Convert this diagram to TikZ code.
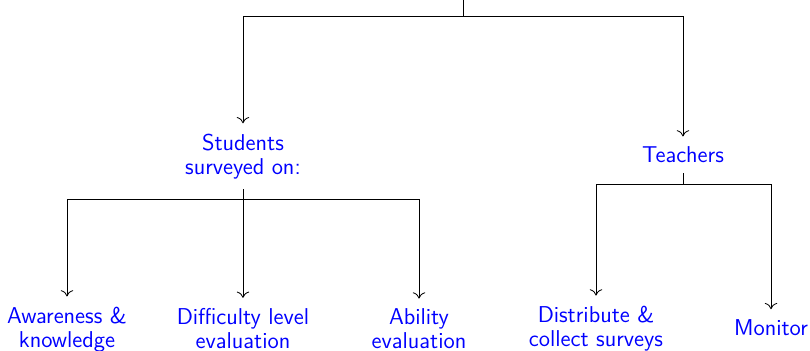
\documentclass[tikz,border=0pt]{standalone}
\usepackage{tikz}
\usetikzlibrary{arrows.meta}

\begin{document}
\begin{tikzpicture}[>={To[length=3pt,width=6pt]},
  lbl/.style={text=blue,font=\sffamily\fontsize{11}{11.5}\selectfont,align=center,inner sep=4.8pt}]
\useasboundingbox (0,0) rectangle (13.665,5.921);
\coordinate (top) at (7.811,5.921);
\coordinate (split) at (7.811,5.651);
\node[lbl] (students) at (4.099,3.285) {Students\\surveyed on:};
\node[lbl] (teachers) at (11.522,3.307) {Teachers};
\coordinate (sfork) at (4.099,2.564);
\coordinate (tfork) at (11.522,2.817);
\node[lbl] (aware) at (1.130,0.364) {Awareness \&\\knowledge};
\node[lbl] (diff) at (4.099,0.380) {Difficulty level\\evaluation};
\node[lbl] (ability) at (7.069,0.370) {Ability\\evaluation};
\node[lbl] (distrib) at (10.055,0.380) {Distribute \&\\collect surveys};
\node[lbl] (monitor) at (13.007,0.393) {Monitor};
\draw (top) -- (split);
\draw[->] (split) -| (students);
\draw[->] (split) -| (teachers);
\draw (students) -- (sfork);
\draw[->] (sfork) -| (aware);
\draw[->] (sfork) -- (diff);
\draw[->] (sfork) -| (ability);
\draw (teachers) -- (tfork);
\draw[->] (tfork) -| (distrib);
\draw[->] (tfork) -| (monitor);
\end{tikzpicture}
\end{document}
